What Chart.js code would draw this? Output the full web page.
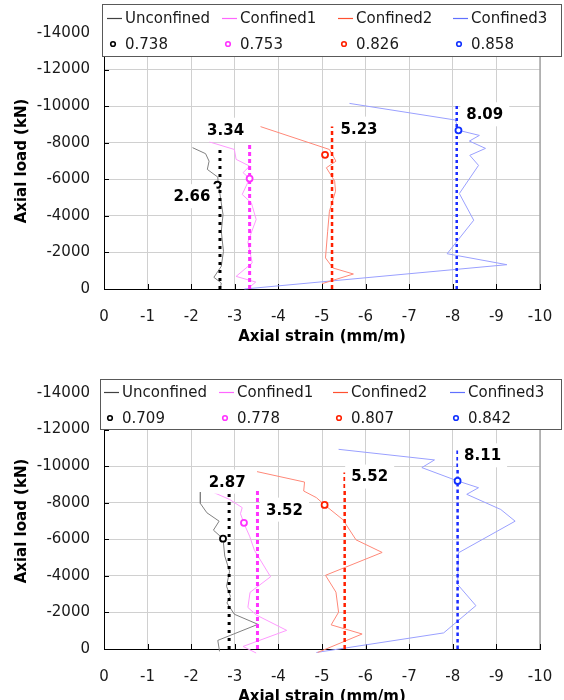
<!DOCTYPE html>
<html>
<head>
<meta charset="utf-8">
<script src="https://cdn.jsdelivr.net/npm/chart.js@4.4.1/dist/chart.umd.min.js"></script>
<style>
    html, body { margin: 0; padding: 0; background: #fff; overflow: hidden; width: 564px; height: 700px; }
    .panel { position: absolute; left: 0; width: 564px; height: 360px; }
    #panelA { top: 0; }
    #panelB { top: 360px; }
</style>
</head>
<body>
<div class="panel" id="panelA"><canvas id="chartA" width="564" height="360"></canvas></div>
<div class="panel" id="panelB"><canvas id="chartB" width="564" height="360"></canvas></div>
<script>
const seriesNames = ['Unconfined', 'Confined1', 'Confined2', 'Confined3'];
const xTickValues = [0, -1, -2, -3, -4, -5, -6, -7, -8, -9, -10];
const yTickValues = [0, -2000, -4000, -6000, -8000, -10000, -12000, -14000];

// top panel
const aUncStrain = [-2.03, -2.33, -2.41, -2.37, -2.61, -2.62, -2.65, -2.73, -2.69, -2.74, -2.69, -2.52, -2.69, -2.67];
const aUncLoad   = [-7730, -7400, -6990, -6540, -6120, -5720, -5350, -4070, -3160, -2060, -1240, -640, -330, -50];
const aC1Strain  = [-2.41, -2.99, -3.03, -3.34, -3.19, -3.34, -3.17, -3.38, -3.49, -3.30, -3.40, -3.03, -3.48, -3.30];
const aC1Load    = [-8050, -7630, -7090, -6720, -6360, -6040, -5170, -4710, -3800, -2570, -1430, -690, -380, -20];
const aC2Strain  = [-3.59, -5.17, -5.32, -5.10, -5.29, -5.31, -5.17, -5.13, -5.08, -5.25, -5.72, -5.00];
const aC2Load    = [-8880, -7630, -6990, -6630, -5900, -5350, -4250, -3160, -1700, -1150, -820, -290];
const aC3Strain  = [-5.63, -8.06, -8.13, -8.61, -8.38, -8.75, -8.39, -8.59, -8.15, -8.48, -7.87, -9.24, -3.22];
const aC3Load    = [-10150, -9240, -8680, -8400, -8090, -7690, -7310, -6760, -5220, -3760, -1930, -1330, 0];
const aMarkStrain = [-2.60, -3.34, -5.07, -8.13];
const aMarkLoad   = [-5700, -6040, -7340, -8680];
const aRatios     = ['0.738', '0.753', '0.826', '0.858'];
const aPeakStrain = [-2.66, -3.34, -5.23, -8.09];
const aPeakLoad   = [-7700, -8000, -8880, -10100];

// bottom panel
const bUncStrain = [-2.21, -2.21, -2.36, -2.64, -2.51, -2.73, -2.77, -2.88, -2.81, -2.90, -2.82, -2.99, -3.53, -2.61, -2.65];
const bUncLoad   = [-8580, -7960, -7450, -6990, -6500, -6030, -5080, -4250, -3430, -2880, -2520, -1900, -1350, -470, 130];
const bC1Strain  = [-2.31, -2.88, -3.17, -3.13, -3.22, -3.34, -3.45, -3.82, -3.35, -3.30, -3.50, -4.19, -3.19, -3.49];
const bC1Load    = [-8770, -8180, -7730, -7400, -6810, -6170, -5400, -3950, -3100, -2270, -1850, -1020, -140, 220];
const bC2Strain  = [-3.51, -4.60, -4.58, -4.87, -5.06, -5.48, -5.78, -6.38, -5.08, -5.32, -5.38, -5.21, -5.92, -4.90];
const bC2Load    = [-9700, -9130, -8640, -8280, -7880, -7070, -5970, -5280, -4030, -3110, -2010, -1320, -820, 190];
const bC3Strain  = [-5.38, -7.58, -7.29, -8.11, -8.59, -8.32, -9.10, -9.43, -8.13, -8.11, -8.53, -7.79, -4.87];
const bC3Load    = [-10920, -10340, -9920, -9190, -8820, -8460, -7630, -6990, -5260, -3530, -2370, -880, 190];
const bMarkStrain = [-2.73, -3.21, -5.06, -8.11];
const bMarkLoad   = [-6035, -6900, -7880, -9190];
const bRatios     = ['0.709', '0.778', '0.807', '0.842'];
const bPeakStrain = [-2.87, -3.52, -5.52, -8.11];
const bPeakLoad   = [-8550, -8770, -9650, -10920];

const curveColors = ['#808080', '#ff99ff', '#ff8878', '#9aa0ff'];
const legendLineColors = ['#404040', '#ff66ff', '#ff5030', '#6070ff'];
const markColors = ['#000000', '#ff33ff', '#ff2000', '#1030ff'];
const dotColors = ['#000000', '#ff33ff', '#ff2000', '#1a2cff'];
const dotWidths = [3, 3, 2.5, 2.5];
const fontFamily = '"DejaVu Sans", Verdana, sans-serif';

const panels = {
    A: {
        curves: [[aUncStrain, aUncLoad], [aC1Strain, aC1Load], [aC2Strain, aC2Load], [aC3Strain, aC3Load]],
        markStrain: aMarkStrain, markLoad: aMarkLoad, ratios: aRatios,
        peakStrain: aPeakStrain, peakLoad: aPeakLoad,
        dashes: [[3, 5], [4, 3], [4, 3], [3, 3]],
        labelOffsets: [[-28, 48], [-24, -13], [27, 2], [28, 10]],
        legend: { x: 102, y: 4, w: 459, h: 52, row1: 18, row2: 44, cols: [125, 240, 356, 471] }
    },
    B: {
        curves: [[bUncStrain, bUncLoad], [bC1Strain, bC1Load], [bC2Strain, bC2Load], [bC3Strain, bC3Load]],
        markStrain: bMarkStrain, markLoad: bMarkLoad, ratios: bRatios,
        peakStrain: bPeakStrain, peakLoad: bPeakLoad,
        dashes: [[3, 5], [4, 3], [4, 3], [3.5, 3]],
        labelOffsets: [[-2, -11], [27, 21], [25, 4], [25, 6]],
        legend: { x: 100, y: 19, w: 461, h: 50, row1: 32, row2: 58, cols: [122, 237, 351, 468] }
    }
};

// inside tick marks and grey right border
const frameTicks = {
    id: 'frameTicks',
    beforeDatasetsDraw(chart) {
        const { ctx, chartArea: area, scales: { x, y } } = chart;
        ctx.save();
        ctx.strokeStyle = '#a6a6a6';
        ctx.lineWidth = 1.5;
        ctx.beginPath();
        ctx.moveTo(area.right, area.top);
        ctx.lineTo(area.right, area.bottom);
        ctx.stroke();
        ctx.strokeStyle = '#000';
        ctx.lineWidth = 1;
        ctx.beginPath();
        xTickValues.forEach(v => {
            const px = Math.round(x.getPixelForValue(v)) + 0.5;
            ctx.moveTo(px, area.bottom);
            ctx.lineTo(px, area.bottom - 5);
        });
        yTickValues.forEach(v => {
            const py = Math.round(y.getPixelForValue(v)) + 0.5;
            ctx.moveTo(area.left, py);
            ctx.lineTo(area.left + 5, py);
        });
        ctx.stroke();
        ctx.restore();
    }
};

// value labels with white boxes
const peakLabels = {
    id: 'peakLabels',
    afterDatasetsDraw(chart, args, opts) {
        const p = opts.panel;
        const { ctx, scales: { x, y } } = chart;
        ctx.save();
        ctx.font = 'bold 15px ' + fontFamily;
        ctx.textAlign = 'center';
        ctx.textBaseline = 'middle';
        p.peakStrain.forEach((s, i) => {
            const txt = Math.abs(s).toFixed(2);
            const px = x.getPixelForValue(s) + p.labelOffsets[i][0];
            const py = y.getPixelForValue(p.peakLoad[i]) + p.labelOffsets[i][1];
            const w = ctx.measureText(txt).width + 12;
            ctx.fillStyle = '#fff';
            ctx.fillRect(px - w / 2, py - 12, w, 24);
            ctx.fillStyle = '#000';
            ctx.fillText(txt, px, py + 1);
        });
        ctx.restore();
    }
};

const boxLegend = {
    id: 'boxLegend',
    afterDraw(chart, args, opts) {
        const p = opts.panel;
        const L = p.legend;
        const ctx = chart.ctx;
        ctx.save();
        ctx.fillStyle = '#fff';
        ctx.fillRect(L.x, L.y, L.w, L.h);
        ctx.strokeStyle = '#595959';
        ctx.lineWidth = 1;
        ctx.strokeRect(L.x + 0.5, L.y + 0.5, L.w, L.h);
        ctx.font = '15px ' + fontFamily;
        ctx.textBaseline = 'middle';
        ctx.textAlign = 'left';
        seriesNames.forEach((name, i) => {
            const tx = L.cols[i];
            ctx.strokeStyle = legendLineColors[i];
            ctx.lineWidth = 1.2;
            ctx.beginPath();
            ctx.moveTo(tx - 18, L.row1 + 0.5);
            ctx.lineTo(tx - 3, L.row1 + 0.5);
            ctx.stroke();
            ctx.fillStyle = '#1a1a1a';
            ctx.fillText(name, tx, L.row1 + 1);

            ctx.strokeStyle = markColors[i];
            ctx.lineWidth = 1.6;
            ctx.beginPath();
            ctx.arc(tx - 12, L.row2, 2.3, 0, Math.PI * 2);
            ctx.stroke();
            ctx.fillText(p.ratios[i], tx, L.row2 + 1);
        });
        ctx.restore();
    }
};

function buildChart(canvasId, p) {
    const datasets = [];
    datasets.push({
        data: p.markStrain.map((s, i) => ({ x: s, y: p.markLoad[i] })),
        showLine: false,
        pointRadius: 3,
        pointBorderWidth: 1.8,
        pointBackgroundColor: '#fff',
        pointBorderColor: markColors,
        clip: false,
        order: 0
    });
    p.peakStrain.forEach((s, i) => {
        datasets.push({
            data: [{ x: s, y: 0 }, { x: s, y: p.peakLoad[i] }],
            showLine: true,
            borderColor: dotColors[i],
            borderWidth: dotWidths[i],
            borderDash: p.dashes[i],
            borderCapStyle: 'butt',
            pointRadius: 0,
            clip: false,
            order: 1
        });
    });
    p.curves.forEach(([strain, load], i) => {
        datasets.push({
            data: strain.map((s, k) => ({ x: s, y: load[k] })),
            showLine: true,
            borderColor: curveColors[i],
            borderWidth: 1,
            pointRadius: 0,
            tension: 0,
            clip: false,
            order: 2
        });
    });

    return new Chart(document.getElementById(canvasId), {
        type: 'scatter',
        data: { datasets },
        options: {
            responsive: false,
            animation: false,
            events: [],
            layout: { padding: { top: 33, right: 24, bottom: 0, left: 0 } },
            plugins: {
                legend: { display: false },
                tooltip: { enabled: false },
                peakLabels: { panel: p },
                boxLegend: { panel: p }
            },
            scales: {
                x: {
                    type: 'linear',
                    reverse: true,
                    min: -10,
                    max: 0,
                    afterBuildTicks: s => { s.ticks = xTickValues.map(v => ({ value: v })); },
                    afterFit: s => { s.height = 71; s.paddingLeft = 0; s.paddingRight = 0; },
                    ticks: {
                        callback: v => String(v),
                        font: { family: fontFamily, size: 15 },
                        color: '#1a1a1a',
                        padding: 19,
                        maxRotation: 0,
                        autoSkip: false
                    },
                    grid: { color: '#d0d0d0', drawTicks: false },
                    border: { color: '#000', width: 1 },
                    title: {
                        display: true,
                        text: 'Axial strain (mm/m)',
                        font: { family: fontFamily, size: 15, weight: 'bold' },
                        color: '#000',
                        padding: { top: 0, bottom: 14 }
                    }
                },
                y: {
                    type: 'linear',
                    reverse: true,
                    min: -14000,
                    max: 0,
                    afterBuildTicks: s => { s.ticks = yTickValues.map(v => ({ value: v })); },
                    afterFit: s => { s.width = 104; },
                    ticks: {
                        callback: v => String(v),
                        font: { family: fontFamily, size: 15 },
                        color: '#1a1a1a',
                        padding: 14,
                        autoSkip: false
                    },
                    grid: { color: '#d0d0d0', drawTicks: false },
                    border: { color: '#000', width: 1 },
                    title: {
                        display: true,
                        text: 'Axial load (kN)',
                        font: { family: fontFamily, size: 15, weight: 'bold' },
                        color: '#000',
                        padding: { top: 13, bottom: 0 }
                    }
                }
            }
        },
        plugins: [frameTicks, peakLabels, boxLegend]
    });
}

buildChart('chartA', panels.A);
buildChart('chartB', panels.B);
</script>
</body>
</html>
